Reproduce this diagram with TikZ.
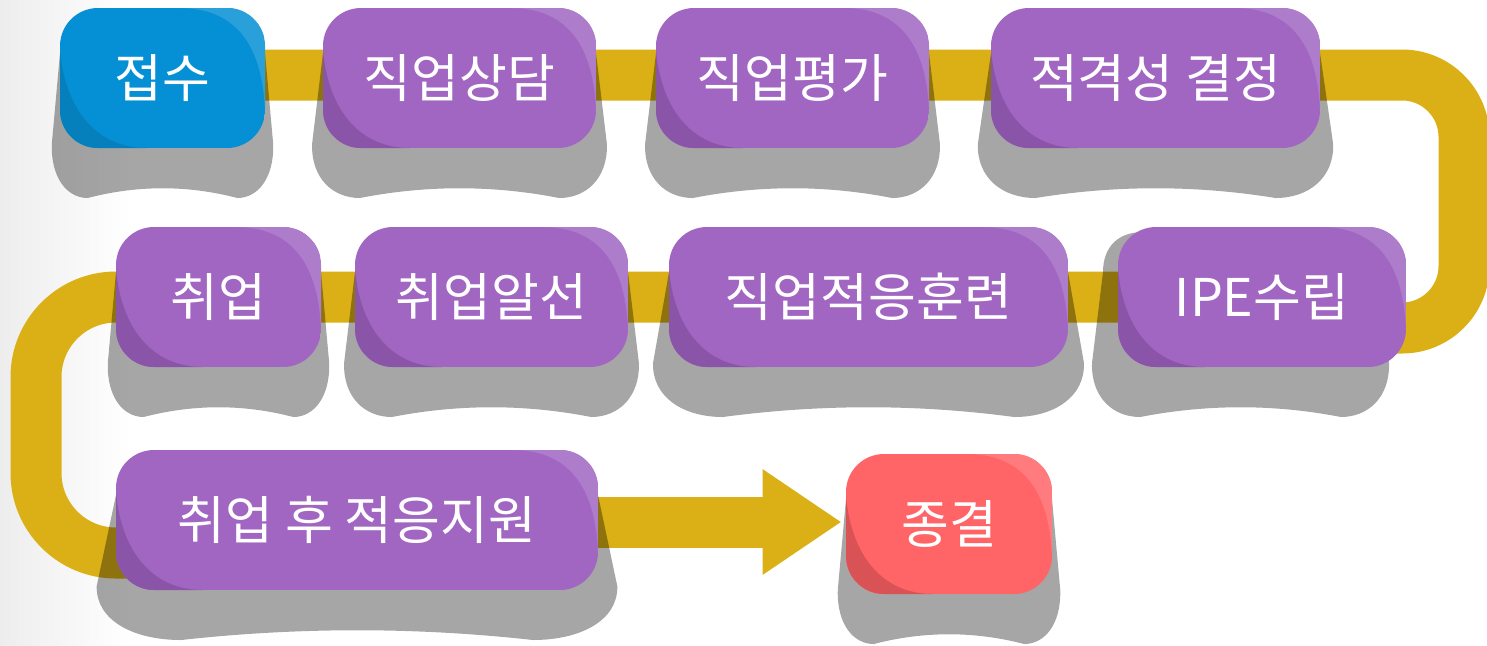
\documentclass[tikz,border=0pt]{standalone}
\usepackage{fontspec}
\newfontfamily\kr{Noto Sans CJK KR}
\usetikzlibrary{calc,arrows.meta}
\pgfdeclarelayer{back}
\pgfsetlayers{back,main}

\definecolor{bandgold}{HTML}{DAB016}
\definecolor{keypurple}{HTML}{A166C2}
\definecolor{keypurpledark}{HTML}{8A55A8}
\definecolor{keypurplelight}{HTML}{AD7CCA}
\definecolor{keyblue}{HTML}{0590D6}
\definecolor{keybluedark}{HTML}{0580BD}
\definecolor{keybluelight}{HTML}{2AA0DB}
\definecolor{keyred}{HTML}{FF6467}
\definecolor{keyreddark}{HTML}{D95255}
\definecolor{keyredlight}{HTML}{FF7B7D}

\tikzset{
  band/.style={draw=bandgold, line width=25.5pt},
  keyshade/.style={fill=black, fill opacity=0.35},
  keytext/.style={text=white, inner sep=0pt, font={\kr\fontsize{26}{30}\selectfont}},
}

% grey shadow under a key: left, top, right, bottom (pixels)
\newcommand\keyshadow[4]{%
  \pgfmathsetmacro\shfl{0.04*(#3-#1)}%
  \pgfmathsetmacro\shci{0.135*(#3-#1)}%
  \pgfmathsetmacro\shcm{(#3-#1-2*\shci)/3}%
  \pgfmathsetmacro\shrd{0.1*(#3-#1)}%
  \fill[keyshade] (#1,#2+45) .. controls (#1,#2+20) and (#1+15,#2+5) .. (#1+40,#2+5)
    -- (#3-40,#2+5) .. controls (#3-15,#2+5) and (#3,#2+20) .. (#3,#2+45)
    -- (#3+\shfl,#4-4) .. controls (#3+\shfl+1,#4+30) and (#3-\shci+\shrd,#4+50) .. (#3-\shci,#4+50)
    .. controls (#3-\shci-\shcm,#4+37) and (#1+\shci+\shcm,#4+37) .. (#1+\shci,#4+50)
    .. controls (#1+\shci-\shrd,#4+50) and (#1-\shfl-1,#4+30) .. (#1-\shfl,#4-4) -- cycle;
}

% key face: name, left, top, right, bottom, colour, text
\newcommand\keyface[7]{%
  \begin{scope}
    \clip[rounded corners=19pt] (#2,#3) rectangle (#4,#5);
    \fill[#6] (#2,#3) rectangle (#4,#5);
    \fill[#6dark] (#2,#3+42) .. controls (#2+5,#3+100) and (#2+35,#5) .. (#2+87,#5) -- (#2,#5) -- cycle;
    \fill[#6light] (#4-85,#3) .. controls (#4-35,#3) and (#4-2,#3+30) .. (#4,#3+105) -- (#4,#3) -- cycle;
  \end{scope}
  \node[keytext, minimum width={(#4-#2)*0.5pt}, minimum height={(#5-#3)*0.5pt}]
    (#1) at ({(#2+#4)/2},{(#3+#5)/2}) {#7};
}

\begin{document}
\begin{tikzpicture}[x=0.5pt, y=-0.5pt]
\useasboundingbox (0,0) rectangle (1487,645);
\begin{pgfonlayer}{back}
\shade[left color=black!7, right color=white] (0,0) rectangle (130,645);
\end{pgfonlayer}

% shadows
\foreach \lx/\ty/\rx/\by in {60/8/265/148, 323/8/596/148, 656/8/929/148, 991/8/1320/148,
    116/227/321/367, 355/227/628/367, 669/227/1068/367, 1103/227/1378/367,
    116/450/598/590, 846/454/1052/594}
  {\keyshadow{\lx}{\ty}{\rx}{\by}}

% faces
\keyface{jeopsu}{60}{8}{265}{148}{keyblue}{접수}
\keyface{sangdam}{323}{8}{596}{148}{keypurple}{직업상담}
\keyface{pyeongga}{656}{8}{929}{148}{keypurple}{직업평가}
\keyface{jeokgyeok}{991}{8}{1320}{148}{keypurple}{적격성 결정\hspace{13.5pt}}
\keyface{chwieop}{116}{227}{321}{367}{keypurple}{취업}
\keyface{alseon}{355}{227}{628}{367}{keypurple}{취업알선}
\keyface{hullyeon}{669}{227}{1068}{367}{keypurple}{직업적응훈련}
\keyface{ipe}{1118}{227}{1406}{367}{keypurple}{IPE수립}
\keyface{jeogeung}{116}{450}{598}{590}{keypurple}{취업 후 적응지원}
\keyface{jongyeol}{846}{454}{1052}{594}{keyred}{종결}

% band
\begin{pgfonlayer}{back}
\coordinate (turnA) at (1464,75);
\coordinate (turnB) at (1464,328);
\coordinate (turnC) at (36,297);
\coordinate (turnD) at (36,553);
\draw[band, rounded corners=31pt] ($(jeopsu.center)+(0,-3)$) -- (turnA) -- (turnB) -- ($(ipe.center)+(0,31)$);
\draw[band, rounded corners=40pt] (ipe.center) -- (chwieop.center) -- (turnC) -- (turnD) -- ($(jeogeung.center)+(0,33)$);
\draw[band, -{Triangle[length=39.5pt, width=50pt]}] ($(jeogeung.center)+(0,2)$) -- ($(jeogeung.center -| jongyeol.west)+(-4,2)$);
\end{pgfonlayer}
\end{tikzpicture}
\end{document}
